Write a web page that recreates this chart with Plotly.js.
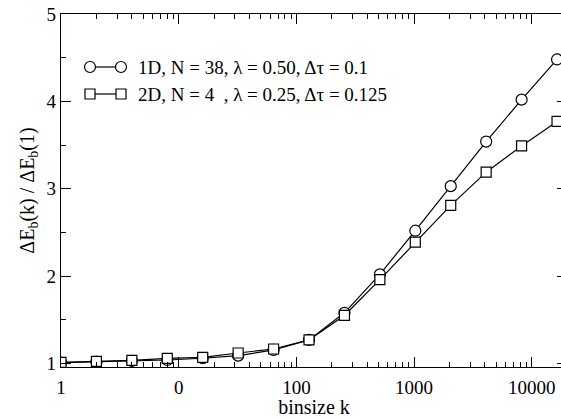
<!DOCTYPE html>
<html>
<head>
<meta charset="utf-8">
<script src="https://cdn.plot.ly/plotly-3.0.1.min.js"></script>
<style>
html, body { margin: 0; padding: 0; overflow: hidden; background: #fff; }
#chart { width: 570px; height: 418px; }
</style>
</head>
<body>
<div id="chart"></div>
<script>
// ---- data ----
const binsize = [1, 2, 4, 8, 16, 32, 64, 128, 256, 512, 1024, 2048, 4096, 8192, 16384];
const ratio1D = [1.01, 1.02, 1.03, 1.04, 1.06, 1.09, 1.155, 1.27, 1.58, 2.02, 2.52, 3.03, 3.54, 4.02, 4.48];
const ratio2D = [1.014, 1.025, 1.036, 1.059, 1.071, 1.12, 1.166, 1.27, 1.55, 1.96, 2.39, 2.81, 3.19, 3.49, 3.77];
const xTickVals = [1, 10, 100, 1000, 10000];
const xTickText = ['1', '0', '100', '1000', '10000'];
const legend1D = '1D, N = 38, \u03bb = 0.50, \u0394\u03c4 = 0.1';
const legend2D = '2D, N = 4\u2002, \u03bb = 0.25, \u0394\u03c4 = 0.125';

const FONT = '"Liberation Serif", "Times New Roman", Times, serif';

// minor tick positions for the log axis
const minorVals = [];
for (let d = 1; d <= 10000; d *= 10) for (let m = 2; m <= 9; m++) minorVals.push(m * d);

const traces = [
  { x: binsize, y: ratio1D, type: 'scatter', mode: 'lines+markers', name: legend1D,
    line: { color: '#000', width: 1.2 },
    marker: { symbol: 'circle', size: 11, color: '#fff', line: { color: '#000', width: 1.2 } } },
  { x: binsize, y: ratio2D, type: 'scatter', mode: 'lines+markers', name: legend2D,
    line: { color: '#000', width: 1.2 },
    marker: { symbol: 'square', size: 10, color: '#fff', line: { color: '#000', width: 1.2 } } }
];

// legend drawn manually (two markers per sample line)
const L = 61, R = 567, T = 14, B = 367;
const px = X => (X - L) / (R - L);
const py = Y => (B - Y) / (B - T);
const shapes = [];
const annotations = [];
function legendRow(Y, sym, text) {
  shapes.push({ type: 'line', xref: 'paper', yref: 'paper', x0: px(90), x1: px(121), y0: py(Y), y1: py(Y),
    line: { color: '#000', width: 1.2 } });
  [90, 121].forEach(X => {
    const h = sym === 'circle' ? 5.5 : 5;
    shapes.push({ type: sym === 'circle' ? 'circle' : 'rect', xref: 'paper', yref: 'paper',
      xsizemode: 'pixel', ysizemode: 'pixel', xanchor: px(X), yanchor: py(Y),
      x0: -h, x1: h, y0: -h, y1: h, fillcolor: '#fff', line: { color: '#000', width: 1.2 } });
  });
  annotations.push({ xref: 'paper', yref: 'paper', x: px(136), y: py(Y), xanchor: 'left', yanchor: 'middle',
    showarrow: false, text: text, font: { family: FONT, size: 19, color: '#000' } });
}
legendRow(67, 'circle', legend1D);
legendRow(94, 'square', legend2D);

const xRange = [0, (R - L) / 117.7];   // one decade = 117.7 px

const layout = {
  width: 570, height: 418,
  margin: { l: L, r: 570 - R, t: T, b: 418 - B },
  paper_bgcolor: '#fff', plot_bgcolor: '#fff',
  showlegend: false,
  font: { family: FONT, size: 19, color: '#000' },
  xaxis: {
    type: 'log', range: xRange,
    tickmode: 'array', tickvals: xTickVals, ticktext: xTickText,
    ticks: 'inside', ticklen: 10, tickwidth: 1.2, tickcolor: '#000',
    minor: { tickmode: 'array', tickvals: minorVals, ticks: 'inside', ticklen: 5, tickwidth: 1, tickcolor: '#000', showgrid: false },
    showline: true, linecolor: '#000', linewidth: 1.3, mirror: 'ticks',
    showgrid: false, zeroline: false,
    tickfont: { family: FONT, size: 19 }, ticklabelstandoff: 3,
    title: { text: 'binsize k', font: { family: FONT, size: 20 }, standoff: 6 }
  },
  yaxis: {
    range: [0.96, 5],
    tickmode: 'array', tickvals: [1, 2, 3, 4, 5],
    ticks: 'inside', ticklen: 10, tickwidth: 1.2, tickcolor: '#000',
    minor: { tickmode: 'array', tickvals: [1.5, 2.5, 3.5, 4.5], ticks: 'inside', ticklen: 5, tickwidth: 1, tickcolor: '#000', showgrid: false },
    showline: true, linecolor: '#000', linewidth: 1.3, mirror: 'ticks',
    showgrid: false, zeroline: false,
    tickfont: { family: FONT, size: 19 },
    title: { text: '\u0394E<sub>b</sub>(k) / \u0394E<sub>b</sub>(1)', font: { family: FONT, size: 20 }, standoff: 6 }
  },
  shapes: shapes,
  annotations: annotations
};

Plotly.newPlot('chart', traces, layout, { staticPlot: true, displayModeBar: false });
</script>
</body>
</html>
